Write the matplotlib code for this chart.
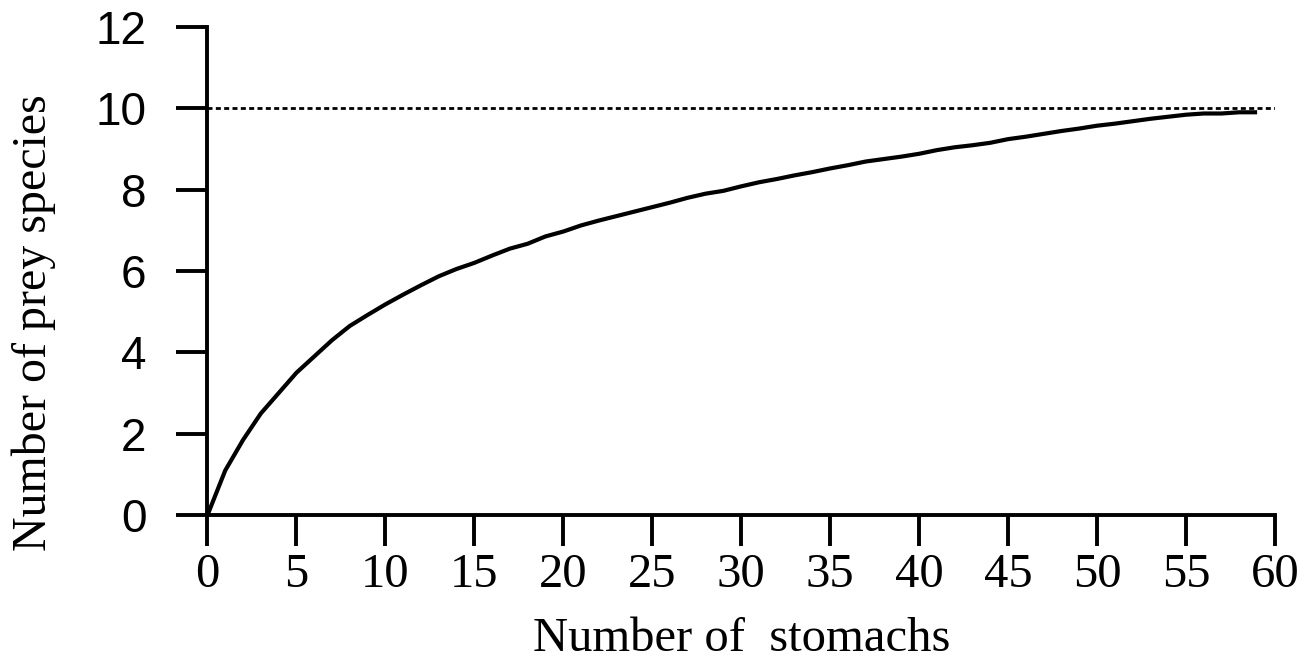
import matplotlib
matplotlib.use("Agg")
import matplotlib.pyplot as plt

# ========= data =========
stomachs = list(range(0, 60))
prey_species = [
    0.00, 1.10, 1.85, 2.50, 3.00, 3.50, 3.90, 4.30, 4.65, 4.92,
    5.18, 5.42, 5.65, 5.87, 6.05, 6.20, 6.38, 6.55, 6.67, 6.85,
    6.97, 7.12, 7.24, 7.35, 7.46, 7.57, 7.68, 7.80, 7.90, 7.97,
    8.08, 8.18, 8.26, 8.35, 8.43, 8.52, 8.60, 8.69, 8.75, 8.81,
    8.88, 8.97, 9.04, 9.09, 9.15, 9.24, 9.30, 9.37, 9.44, 9.50,
    9.57, 9.62, 9.68, 9.74, 9.79, 9.84, 9.87, 9.87, 9.90, 9.90,
]
asymptote = 10
x_ticks = list(range(0, 61, 5))
y_ticks = list(range(0, 13, 2))

SERIF = ["Liberation Serif", "DejaVu Serif"]
SANS = ["Liberation Sans", "DejaVu Sans"]

fig = plt.figure(figsize=(13.13, 6.70), dpi=100)
ax = fig.add_axes([0.158, 0.231, 0.813, 0.729])

ax.plot(stomachs, prey_species, color="black", lw=3.0, solid_capstyle="butt")
ax.plot([0, 60], [asymptote, asymptote], color="black", lw=2.0,
        linestyle=(0, (1.8, 1.2)))

ax.set_xlim(0, 60)
ax.set_ylim(0, 12)
ax.set_xticks(x_ticks)
ax.set_yticks(y_ticks)

for side in ("top", "right"):
    ax.spines[side].set_visible(False)
for side in ("left", "bottom"):
    ax.spines[side].set_linewidth(2.8)

ax.tick_params(axis="both", direction="out", length=22, width=2.8, color="black")
ax.tick_params(axis="y", pad=22)
ax.tick_params(axis="x", pad=5)

for lab in ax.get_yticklabels():
    lab.set_family(SANS)
    lab.set_fontsize(33)
for lab in ax.get_xticklabels():
    lab.set_family(SERIF)
    lab.set_fontsize(35)

ax.set_xlabel("Number of  stomachs", family=SERIF, fontsize=35)
ax.set_ylabel("Number of prey species", family=SERIF, fontsize=34.5)
ax.xaxis.set_label_coords(0.5, -0.209)
ax.yaxis.set_label_coords(-0.1415, 0.395)

fig.savefig("out.png", dpi=100)
